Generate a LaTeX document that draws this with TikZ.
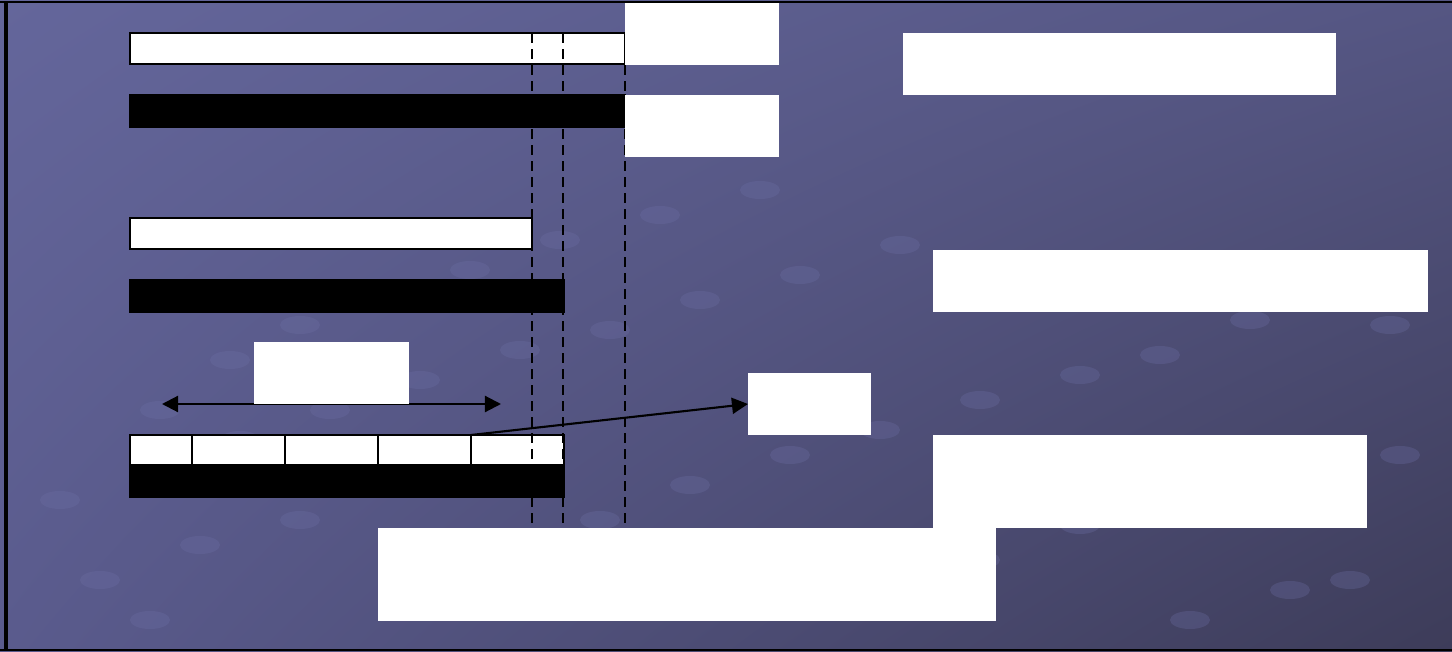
\documentclass[tikz,border=0pt]{standalone}
\usepackage{tikz}
\usetikzlibrary{positioning,arrows.meta,calc,shadings}
\definecolor{bgul}{HTML}{64669B}
\definecolor{bgur}{HTML}{555683}
\definecolor{bgll}{HTML}{5A5B8D}
\definecolor{bglr}{HTML}{3D3C59}
\definecolor{bgdot}{HTML}{6E70A6}
\tikzset{
  blankbox/.style={fill=white, inner sep=0pt, outer sep=0pt},
  whitebar/.style={draw=black, fill=white, line width=0.6pt, inner sep=0pt},
  blackbar/.style={draw=black, fill=black, line width=0.6pt, inner sep=0pt},
  guide/.style={dashed, dash pattern=on 0.1cm off 0.06cm, line width=0.6pt},
  spanarrow/.style={{Triangle[length=0.16cm,width=0.16cm]}-{Triangle[length=0.16cm,width=0.16cm]}, line width=0.6pt},
  pointarrow/.style={-{Triangle[length=0.16cm,width=0.16cm]}, line width=0.6pt}
}

\begin{document}
\begin{tikzpicture}[x=0.01cm, y=-0.01cm]
  \useasboundingbox (0,0) rectangle (1452,652);
  % background
  \shade[upper left=bgul, upper right=bgur, lower left=bgll, lower right=bglr] (0,0) rectangle (1452,652);
  \foreach \px/\py in {160/410, 230/360, 300/325, 380/300, 470/270, 560/240, 660/215, 760/190, 60/500, 150/470,
                       240/440, 330/410, 420/380, 520/350, 610/330, 700/300, 800/275, 900/245, 100/580, 200/545,
                       300/520, 600/520, 690/485, 790/455, 880/430, 980/400, 1080/375, 1160/355, 1250/320, 1340/295,
                       1390/325, 980/560, 1080/525, 1200/495, 1320/470, 1400/455, 1190/620, 1290/590, 1350/580, 150/620}
    \fill[bgdot, opacity=0.3] (\px,\py) ellipse (0.2cm and 0.09cm);
  \draw[black, line width=0.7pt] (0,2) -- (1452,2);
  \draw[black, line width=0.9pt] (6,2) -- (6,650);
  \draw[black, line width=0.7pt] (0,650) -- (1452,650);

  % bars
  \node[whitebar, minimum width=4.95cm, minimum height=0.31cm] (bar1) at (377.5,48.5) {};
  \node[blackbar, minimum width=4.95cm, minimum height=0.32cm] (bar2) at (377.5,111) {};
  \node[whitebar, minimum width=4.02cm, minimum height=0.31cm] (bar3) at (331,233.5) {};
  \node[blackbar, minimum width=4.34cm, minimum height=0.32cm] (bar4) at (347,296) {};
  \node[blackbar, minimum width=4.34cm, minimum height=0.32cm] (bar5) at (347,481) {};
  \foreach \a/\b [count=\i] in {130/192, 192/285, 285/378, 378/471, 471/564}
    \draw[whitebar] (\a,435) rectangle (\b,465) coordinate (cell\i);
  \coordinate (cellstart) at (471,435);

  % guides
  \foreach \gx in {532,563,625}
    \draw[guide] (\gx,33) -- (\gx,528);

  % arrows
  \coordinate (spanL) at (162,404);
  \coordinate (spanR) at (501,404);
  \draw[spanarrow] (spanL) -- (spanR);

  % label boxes
  \node[blankbox, minimum width=1.54cm, minimum height=0.62cm] (lblA) at (702,34) {};
  \node[blankbox, minimum width=1.54cm, minimum height=0.62cm] (lblB) at (702,126) {};
  \node[blankbox, minimum width=4.33cm, minimum height=0.62cm] (lblC) at (1119.5,64) {};
  \node[blankbox, minimum width=4.95cm, minimum height=0.62cm] (lblD) at (1180.5,281) {};
  \node[blankbox, minimum width=1.55cm, minimum height=0.62cm] (lblE) at (331.5,373) {};
  \node[blankbox, minimum width=1.23cm, minimum height=0.62cm] (lblF) at (809.5,404) {};
  \node[blankbox, minimum width=4.34cm, minimum height=0.93cm] (lblG) at (1150,481.5) {};
  \node[blankbox, minimum width=6.18cm, minimum height=0.93cm] (lblH) at (687,574.5) {};

  \draw[pointarrow] (cellstart) -- (lblF.west);
\end{tikzpicture}
\end{document}
